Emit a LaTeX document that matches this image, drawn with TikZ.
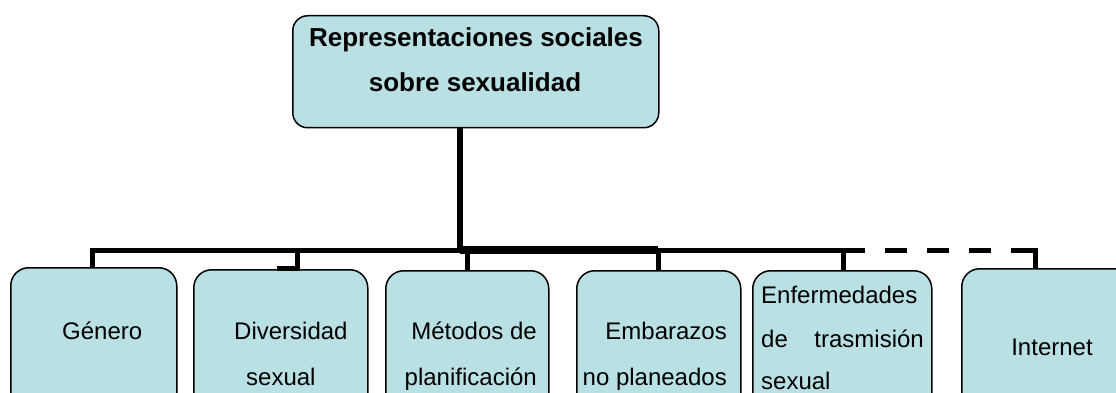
\documentclass[tikz,border=0pt]{standalone}
\usepackage{fontspec}
\setmainfont{Liberation Sans}
\definecolor{boxfill}{RGB}{185,224,227}
\begin{document}
\begin{tikzpicture}[x=1pt,y=-1pt,
  box/.style={draw=black, line width=1.5pt, fill=boxfill, rounded corners=18pt, inner sep=0pt, anchor=north west},
  lbl/.style={inner sep=0pt, font=\fontsize{24}{28}\selectfont},
  ttl/.style={inner sep=0pt, anchor=base, font=\fontsize{26}{30}\selectfont\bfseries},
  conn/.style={line width=5pt},
  dconn/.style={line width=5pt, dash pattern=on 22pt off 20pt}]
\useasboundingbox (0,0) rectangle (1116,393);
\clip (0,0) rectangle (1116,393);
% boxes
\node[box, rounded corners=15pt, minimum width=366pt, minimum height=112pt] (top) at (292,15) {};
\node[box, minimum width=166pt, minimum height=150pt] (b1) at (10,267) {};
\node[box, minimum width=174pt, minimum height=150pt] (b2) at (193,269) {};
\node[box, minimum width=163pt, minimum height=150pt] (b3) at (385,270) {};
\node[box, minimum width=164pt, minimum height=150pt] (b4) at (576,270) {};
\node[box, minimum width=179pt, minimum height=150pt] (b5) at (752,270) {};
\node[box, minimum width=170pt, minimum height=150pt] (b6) at (961,268) {};
% texts
\node[ttl] (tt1) at (476,47) {Representaciones sociales};
\node[ttl] (tt2) at (475,92) {sobre sexualidad};
\node[lbl, anchor=base west] (l1) at (62,339) {Género};
\node[lbl, anchor=base west] (l2a) at (234,339) {Diversidad};
\node[lbl, anchor=base west] (l2b) at (246,385) {sexual};
\node[lbl, anchor=base east] (l3a) at (537,339) {Métodos de};
\node[lbl, anchor=base east] (l3b) at (537,385) {planificación};
\node[lbl, anchor=base east] (l4a) at (727,339) {Embarazos};
\node[lbl, anchor=base east] (l4b) at (727,385) {no planeados};
\node[lbl, anchor=base west] (l5a) at (761,303) {Enfermedades};
\node[lbl, anchor=base west] (l5b) at (761,347) {de};
\node[lbl, anchor=base east] (l5c) at (924,347) {trasmisión};
\node[lbl, anchor=base west] (l5d) at (761,389) {sexual};
\node[lbl, anchor=base] (l6) at (1052,355) {Internet};
% connector points
\coordinate (hub) at (460,250);
\coordinate (d1) at (92,250);
\coordinate (d2) at (297,250);
\coordinate (s2) at (277,268);
\coordinate (d3) at (467,250);
\coordinate (d4) at (658,250);
\coordinate (d5) at (843,250);
\coordinate (d6) at (1035,250);
% connectors
\draw[line width=6pt] (top.south -| hub) -- (hub);
\draw[conn] (hub) -- (d1) -- (d1 |- b1.north);
\draw[conn] (d2) -- (d2 |- s2) -- (s2);
\draw[line width=8pt] (hub) -- (d4);
\draw[conn] (d3) -- (d3 |- b3.north);
\draw[conn] (d4) -- (d4 |- b4.north);
\draw[conn] (d4) -- (d5) -- (d5 |- b5.north);
\draw[dconn] (d5) -- (d6);
\draw[conn] ([yshift=2.5pt]d6) -- (d6 |- b6.north);
\end{tikzpicture}
\end{document}
